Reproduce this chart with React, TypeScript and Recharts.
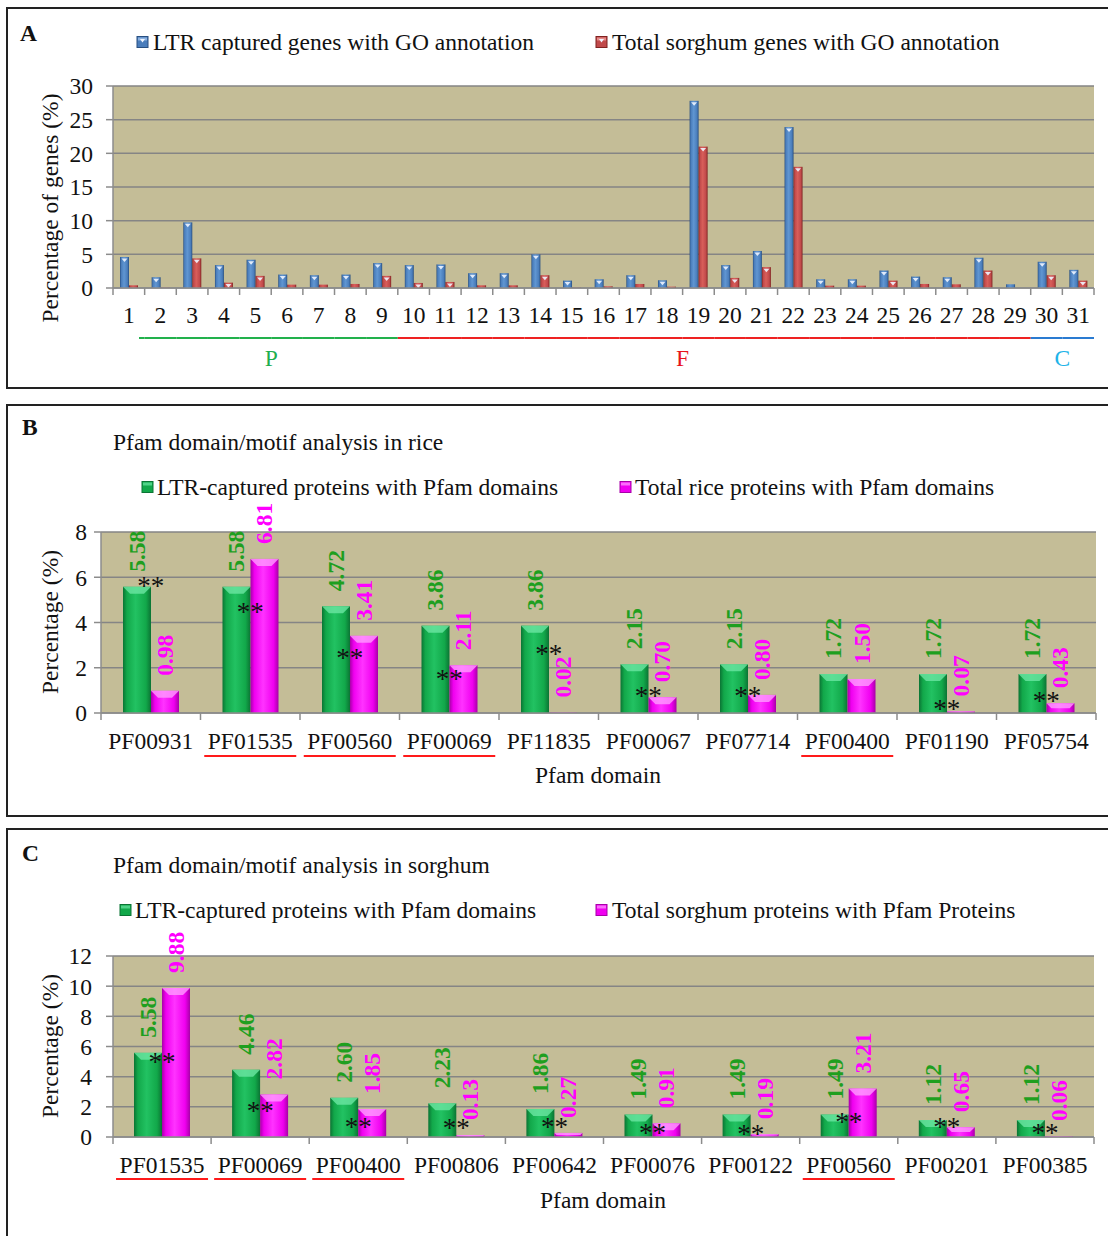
import { BarChart, Bar, XAxis, YAxis, CartesianGrid, LabelList, ReferenceDot } from 'recharts'

const FONT = "'Liberation Serif', 'Times New Roman', serif"
const FS = 23.5
const INK = '#111'
const AXIS = '#8c8c8c'
const GRID = '#858585'
const PLOT_BG = '#c4bd97'
const GREEN_TEXT = '#1f9f1f'
const MAGENTA_TEXT = '#ff00ff'
const UNDERLINE = '#ff1a1a'

// ---- Panel A: GO categories in sorghum ----
const goCategories = [
  '1', '2', '3', '4', '5', '6', '7', '8', '9', '10', '11', '12', '13', '14', '15', '16',
  '17', '18', '19', '20', '21', '22', '23', '24', '25', '26', '27', '28', '29', '30', '31',
]
const goSeries = ['LTR captured genes with GO annotation', 'Total sorghum genes with GO annotation']
const goLtr = [
  4.6, 1.6, 9.75, 3.4, 4.2, 2.0, 1.9, 2.0, 3.7, 3.4, 3.5, 2.2, 2.2, 5.0, 1.1, 1.3,
  1.9, 1.15, 27.8, 3.4, 5.5, 23.9, 1.3, 1.3, 2.6, 1.7, 1.6, 4.5, 0.55, 3.9, 2.7,
]
const goTotal = [
  0.4, 0.05, 4.4, 0.8, 1.8, 0.5, 0.5, 0.6, 1.8, 0.75, 0.9, 0.4, 0.4, 1.9, 0.05, 0.25,
  0.6, 0.2, 21.0, 1.5, 3.1, 18.0, 0.35, 0.35, 1.1, 0.6, 0.55, 2.6, 0, 1.9, 1.1,
]
const goTicks = [0, 5, 10, 15, 20, 25, 30]
const goGroups = [
  { name: 'P', first: '1', last: '9', labelAt: '5', text: '#1fae4f', line: '#22b14c' },
  { name: 'F', first: '10', last: '29', labelAt: '18', text: '#e8141b', line: '#ee2222' },
  { name: 'C', first: '30', last: '31', labelAt: '30', text: '#20b3e8', line: '#2a7bd1' },
]

// ---- Panel B: Pfam domains in rice ----
const riceTitle = 'Pfam domain/motif analysis in rice'
const riceSeries = ['LTR-captured proteins with Pfam domains', 'Total rice proteins with Pfam domains']
const riceDomains = ['PF00931', 'PF01535', 'PF00560', 'PF00069', 'PF11835', 'PF00067', 'PF07714', 'PF00400', 'PF01190', 'PF05754']
const riceLtr = [5.58, 5.58, 4.72, 3.86, 3.86, 2.15, 2.15, 1.72, 1.72, 1.72]
const riceTotal = [0.98, 6.81, 3.41, 2.11, 0.02, 0.70, 0.80, 1.50, 0.07, 0.43]
const riceStars = [5.75, 4.6, 2.57, 1.64, 2.76, 0.88, 0.88, null, 0.32, 0.66]
const riceUnderlined = ['PF01535', 'PF00560', 'PF00069', 'PF00400']
const riceTicks = [0, 2, 4, 6, 8]

// ---- Panel C: Pfam domains in sorghum ----
const sorghumTitle = 'Pfam domain/motif analysis in sorghum'
const sorghumSeries = ['LTR-captured proteins with Pfam domains', 'Total sorghum proteins with Pfam Proteins']
const sorghumDomains = ['PF01535', 'PF00069', 'PF00400', 'PF00806', 'PF00642', 'PF00076', 'PF00122', 'PF00560', 'PF00201', 'PF00385']
const sorghumLtr = [5.58, 4.46, 2.60, 2.23, 1.86, 1.49, 1.49, 1.49, 1.12, 1.12]
const sorghumTotal = [9.88, 2.82, 1.85, 0.13, 0.27, 0.91, 0.19, 3.21, 0.65, 0.06]
const sorghumStars = [5.15, 1.92, 0.88, 0.77, 0.88, 0.48, 0.37, 1.21, 0.88, 0.48]
const sorghumUnderlined = ['PF01535', 'PF00069', 'PF00400', 'PF00560']
const sorghumTicks = [0, 2, 4, 6, 8, 10, 12]

type Palette = { dark: string; base: string; mid: string; bevel: string }
const BLUE: Palette = { dark: '#284f80', base: '#4a7dbb', mid: '#6096d2', bevel: '#a8c8ee' }
const RED: Palette = { dark: '#7e2220', base: '#c0494a', mid: '#d85e5a', bevel: '#f3a6a4' }
const GREEN: Palette = { dark: '#0b7434', base: '#12a84a', mid: '#22c262', bevel: '#6be6a2' }
const MAGENTA: Palette = { dark: '#a800a8', base: '#f000f0', mid: '#ff33ff', bevel: '#ff9cff' }

// plot bands (width of plot area / number of categories)
const A_BAND = (1094 - 113) / goCategories.length
const B_BAND = (1096 - 101) / riceDomains.length
const C_BAND = (1094 - 113) / sorghumDomains.length

const goRows = goCategories.map((name, i) => ({ name, ltr: goLtr[i], total: goTotal[i] }))
const riceRows = riceDomains.map((name, i) => ({ name, ltr: riceLtr[i], total: riceTotal[i] }))
const sorghumRows = sorghumDomains.map((name, i) => ({ name, ltr: sorghumLtr[i], total: sorghumTotal[i] }))

function gradient(id: string, c: Palette) {
  return (
    <linearGradient id={id} x1="0" y1="0" x2="1" y2="0">
      <stop offset="0" stopColor={c.dark} />
      <stop offset="0.14" stopColor={c.base} />
      <stop offset="0.45" stopColor={c.mid} />
      <stop offset="0.82" stopColor={c.base} />
      <stop offset="1" stopColor={c.dark} />
    </linearGradient>
  )
}

function BevelBar(props: any) {
  const { x, y, width, height, colors, gid, bevel, pip } = props
  if (!(height > 0) || !(width > 0)) return <g />
  const b = Math.min(bevel, height / 2)
  const cx = x + width / 2
  return (
    <g>
      <rect x={x} y={y} width={width} height={height} fill={`url(#${gid})`} />
      {b > 0 && (
        <polygon
          points={`${x},${y} ${x + width},${y} ${x + width - b},${y + b} ${x + b},${y + b}`}
          fill={colors.bevel}
          opacity={0.8}
        />
      )}
      {pip && height > 5 && (
        <polygon points={`${cx - 3},${y + 1.5} ${cx + 3},${y + 1.5} ${cx},${y + 5}`} fill="#eef4ff" opacity={0.9} />
      )}
    </g>
  )
}

function VerticalValue(props: any) {
  const vb = props.viewBox ?? props
  const cx = vb.x + vb.width / 2
  const by = vb.y - 15
  return (
    <text
      x={cx}
      y={by}
      transform={`rotate(-90 ${cx} ${by})`}
      textAnchor="start"
      dominantBaseline="central"
      fontSize={FS}
      fontWeight="bold"
      fontFamily={FONT}
      fill={props.color}
    >
      {Number(props.value).toFixed(2)}
    </text>
  )
}

function Stars(props: any) {
  return (
    <text x={props.cx} y={props.cy + 12} textAnchor="middle" fontSize={27} fontFamily={FONT} fill={INK}>
      **
    </text>
  )
}

function GoTick(props: any) {
  const { x, y, payload, index } = props
  const axisY = y - 7
  const half = A_BAND / 2
  const g = goGroups.find(
    gr => index >= goCategories.indexOf(gr.first) && index <= goCategories.indexOf(gr.last),
  )
  const isLast = index === goCategories.length - 1
  const lineStart = index === 0 ? x - half + 26 : x - half
  return (
    <g>
      <line x1={x - half} x2={x - half} y1={axisY} y2={axisY + 7} stroke={AXIS} strokeWidth={1.5} />
      {isLast && <line x1={x + half} x2={x + half} y1={axisY} y2={axisY + 7} stroke={AXIS} strokeWidth={1.5} />}
      <text x={x} y={axisY + 27} textAnchor="middle" dominantBaseline="central" fontSize={FS} fontFamily={FONT} fill={INK}>
        {payload.value}
      </text>
      {g && <line x1={lineStart} x2={x + half} y1={axisY + 50} y2={axisY + 50} stroke={g.line} strokeWidth={2} />}
      {g && g.labelAt === payload.value && (
        <text x={x + half} y={axisY + 70} textAnchor="middle" dominantBaseline="central" fontSize={FS} fontFamily={FONT} fill={g.text}>
          {g.name}
        </text>
      )}
    </g>
  )
}

function PfamTick(props: any) {
  const { x, y, payload, index, band, underlined, count, labelDy, lineDy } = props
  const axisY = y - 7
  const half = band / 2
  return (
    <g>
      <line x1={x - half} x2={x - half} y1={axisY} y2={axisY + 7} stroke={AXIS} strokeWidth={1.5} />
      {index === count - 1 && <line x1={x + half} x2={x + half} y1={axisY} y2={axisY + 7} stroke={AXIS} strokeWidth={1.5} />}
      <text x={x} y={axisY + labelDy} textAnchor="middle" dominantBaseline="central" fontSize={FS} fontFamily={FONT} fill={INK}>
        {payload.value}
      </text>
      {underlined.includes(payload.value) && (
        <line x1={x - 46} x2={x + 46} y1={axisY + lineDy} y2={axisY + lineDy} stroke={UNDERLINE} strokeWidth={2} />
      )}
    </g>
  )
}

const yTick = { fontSize: FS, fill: INK, fontFamily: FONT }

function GoChart() {
  return (
    <BarChart width={1108} height={390} data={goRows} margin={{ top: 86, right: 14, left: 53, bottom: 12 }} barGap={0}>
      <defs>
        {gradient('gA-blue', BLUE)}
        {gradient('gA-red', RED)}
      </defs>
      <CartesianGrid vertical={false} stroke={GRID} strokeWidth={1.5} fill={PLOT_BG} fillOpacity={1} />
      <XAxis
        dataKey="name"
        interval={0}
        height={90}
        tickSize={7}
        tickMargin={0}
        tickLine={false}
        axisLine={{ stroke: AXIS, strokeWidth: 1.5 }}
        tick={(p: any) => <GoTick {...p} />}
      />
      <YAxis
        domain={[0, 30]}
        ticks={goTicks}
        interval={0}
        width={60}
        tickSize={7}
        tickMargin={13}
        tickLine={{ stroke: AXIS, strokeWidth: 1.5 }}
        axisLine={{ stroke: AXIS, strokeWidth: 1.5 }}
        tick={yTick}
      />
      <Bar dataKey="ltr" barSize={9} isAnimationActive={false}
        shape={(p: any) => <BevelBar {...p} colors={BLUE} gid="gA-blue" bevel={0} pip />} />
      <Bar dataKey="total" barSize={9} isAnimationActive={false}
        shape={(p: any) => <BevelBar {...p} colors={RED} gid="gA-red" bevel={0} pip />} />
    </BarChart>
  )
}

function PfamChart(props: {
  id: string
  rows: { name: string; ltr: number; total: number }[]
  domains: string[]
  stars: (number | null)[]
  underlined: string[]
  ticks: number[]
  height: number
  margin: { top: number; right: number; left: number; bottom: number }
  yWidth: number
  yTickMargin: number
  xHeight: number
  band: number
  labelDy: number
  lineDy: number
}) {
  const { id, rows, domains, stars, underlined, ticks } = props
  return (
    <BarChart width={1108} height={props.height} data={rows} margin={props.margin} barGap={0}>
      <defs>
        {gradient(`${id}-green`, GREEN)}
        {gradient(`${id}-mag`, MAGENTA)}
      </defs>
      <CartesianGrid vertical={false} stroke={GRID} strokeWidth={1.5} fill={PLOT_BG} fillOpacity={1} />
      <XAxis
        dataKey="name"
        interval={0}
        height={props.xHeight}
        tickSize={7}
        tickMargin={0}
        tickLine={false}
        axisLine={{ stroke: AXIS, strokeWidth: 1.5 }}
        tick={(p: any) => (
          <PfamTick {...p} band={props.band} underlined={underlined} count={domains.length}
            labelDy={props.labelDy} lineDy={props.lineDy} />
        )}
      />
      <YAxis
        domain={[ticks[0], ticks[ticks.length - 1]]}
        ticks={ticks}
        interval={0}
        width={props.yWidth}
        tickSize={7}
        tickMargin={props.yTickMargin}
        tickLine={{ stroke: AXIS, strokeWidth: 1.5 }}
        axisLine={{ stroke: AXIS, strokeWidth: 1.5 }}
        tick={yTick}
      />
      <Bar dataKey="ltr" barSize={28} isAnimationActive={false}
        shape={(p: any) => <BevelBar {...p} colors={GREEN} gid={`${id}-green`} bevel={7} />}>
        <LabelList dataKey="ltr" content={(p: any) => <VerticalValue {...p} color={GREEN_TEXT} />} />
      </Bar>
      <Bar dataKey="total" barSize={28} isAnimationActive={false}
        shape={(p: any) => <BevelBar {...p} colors={MAGENTA} gid={`${id}-mag`} bevel={7} />}>
        <LabelList dataKey="total" content={(p: any) => <VerticalValue {...p} color={MAGENTA_TEXT} />} />
      </Bar>
      {domains.map((d, i) =>
        stars[i] == null ? null : (
          <ReferenceDot key={d} x={d} y={stars[i] as number} r={0} ifOverflow="visible"
            shape={(p: any) => <Stars {...p} />} />
        ),
      )}
    </BarChart>
  )
}

function LegendItem(props: { x: number; y: number; label: string; palette: Palette; textX: number; pip?: boolean }) {
  const { x, y, label, palette, textX, pip } = props
  return (
    <g>
      <rect x={x} y={y - 5.5} width={11} height={11} fill={palette.base} stroke={palette.dark} strokeWidth={1} />
      <rect x={x + 1} y={y - 4.5} width={9} height={3} fill={palette.bevel} opacity={0.7} />
      {pip && <polygon points={`${x + 3},${y - 3} ${x + 8},${y - 3} ${x + 5.5},${y + 0.5}`} fill="#eef4ff" />}
      <text x={textX} y={y} dominantBaseline="central" fontSize={FS} fontFamily={FONT} fill={INK}>
        {label}
      </text>
    </g>
  )
}

function Overlay() {
  const t = { fontSize: FS, fontFamily: FONT, fill: INK, dominantBaseline: 'central' as const }
  return (
    <svg width={1108} height={1236} style={{ position: 'absolute', left: 0, top: 0, pointerEvents: 'none' }}>
      {/* panel A */}
      <text x={20} y={33} {...t} fontWeight="bold">A</text>
      <LegendItem x={137} y={42} label={goSeries[0]} palette={BLUE} textX={153} pip />
      <LegendItem x={596} y={42} label={goSeries[1]} palette={RED} textX={612} pip />
      <text x={50} y={208} {...t} textAnchor="middle" transform="rotate(-90 50 208)">Percentage of genes (%)</text>

      {/* panel B */}
      <text x={22} y={427} {...t} fontWeight="bold">B</text>
      <text x={113} y={442} {...t}>{riceTitle}</text>
      <LegendItem x={142} y={487} label={riceSeries[0]} palette={GREEN} textX={157} />
      <LegendItem x={620} y={487} label={riceSeries[1]} palette={MAGENTA} textX={635} />
      <text x={50} y={622} {...t} textAnchor="middle" transform="rotate(-90 50 622)">Percentage (%)</text>
      <text x={598} y={775} {...t} textAnchor="middle">Pfam domain</text>

      {/* panel C */}
      <text x={22} y={853} {...t} fontWeight="bold">C</text>
      <text x={113} y={865} {...t}>{sorghumTitle}</text>
      <LegendItem x={120} y={910} label={sorghumSeries[0]} palette={GREEN} textX={135} />
      <LegendItem x={596} y={910} label={sorghumSeries[1]} palette={MAGENTA} textX={612} />
      <text x={50} y={1046} {...t} textAnchor="middle" transform="rotate(-90 50 1046)">Percentage (%)</text>
      <text x={603} y={1200} {...t} textAnchor="middle">Pfam domain</text>
    </svg>
  )
}

const frame = { position: 'absolute' as const, left: 6, width: 1130, border: '2px solid #222', boxSizing: 'border-box' as const }

export default function App() {
  return (
    <div style={{ position: 'absolute', left: 0, top: 0, width: 1108, height: 1236, overflow: 'hidden', background: '#fff', fontFamily: FONT }}>
      <div style={{ ...frame, top: 7, height: 382 }} />
      <div style={{ ...frame, top: 404, height: 413 }} />
      <div style={{ ...frame, top: 828, height: 430 }} />

      <div style={{ position: 'absolute', left: 0, top: 0 }}>
        <GoChart />
      </div>
      <div style={{ position: 'absolute', left: 0, top: 400 }}>
        <PfamChart id="gB" rows={riceRows} domains={riceDomains} stars={riceStars} underlined={riceUnderlined}
          ticks={riceTicks} height={420} margin={{ top: 132, right: 12, left: 51, bottom: 7 }}
          yWidth={50} yTickMargin={7} xHeight={100} band={B_BAND} labelDy={28} lineDy={43} />
      </div>
      <div style={{ position: 'absolute', left: 0, top: 820 }}>
        <PfamChart id="gC" rows={sorghumRows} domains={sorghumDomains} stars={sorghumStars} underlined={sorghumUnderlined}
          ticks={sorghumTicks} height={416} margin={{ top: 136, right: 14, left: 53, bottom: 9 }}
          yWidth={60} yTickMargin={14} xHeight={90} band={C_BAND} labelDy={28} lineDy={42} />
      </div>
      <Overlay />
    </div>
  )
}
